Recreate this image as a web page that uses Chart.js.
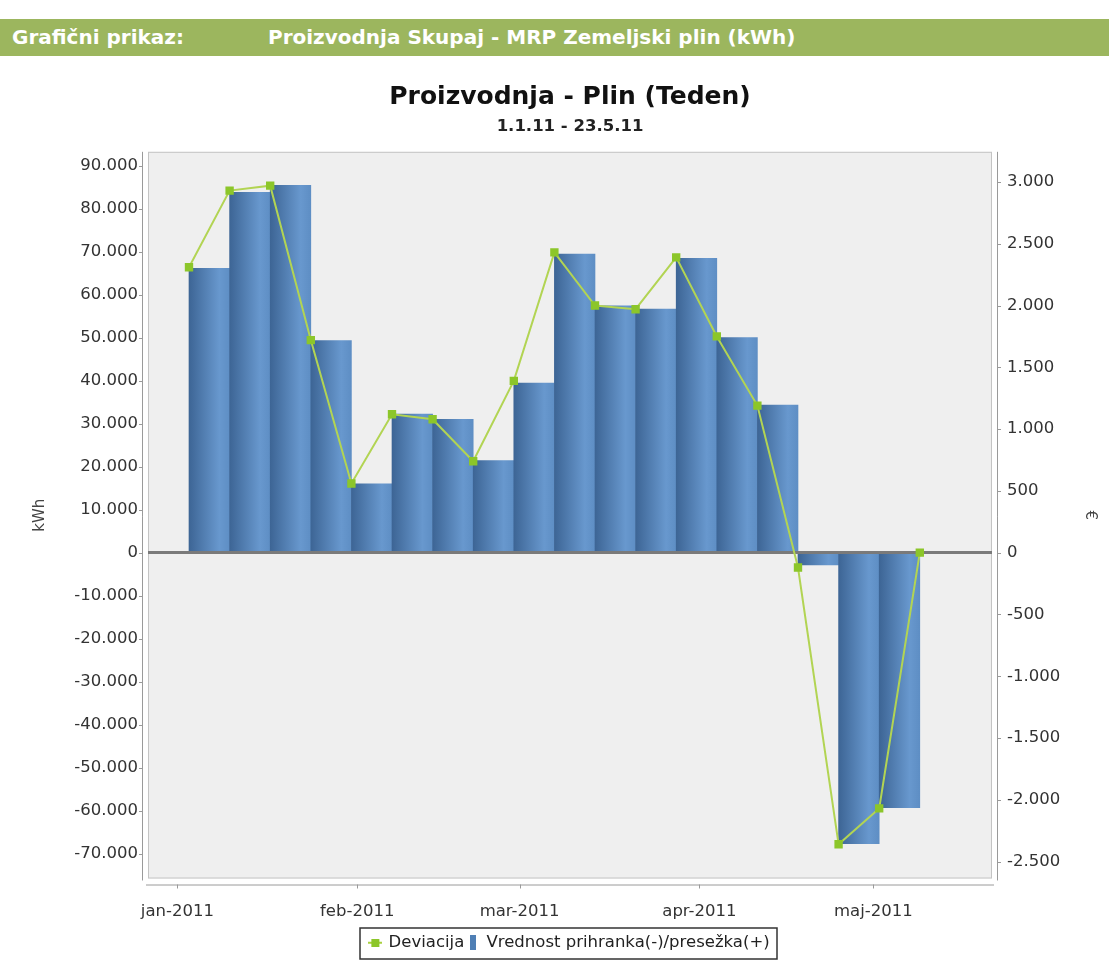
<!DOCTYPE html>
<html>
<head>
<meta charset="utf-8">
<script src="https://cdn.jsdelivr.net/npm/chart.js@4/dist/chart.umd.min.js"></script>
<style>
body { margin: 0; background: #fff; width: 1109px; height: 973px; overflow: hidden; font-family: "DejaVu Sans", sans-serif; }
#head { position: absolute; left: 0; top: 19px; width: 1109px; height: 37px; background: #9cb65e; color: #fff; font-weight: bold; font-size: 20px; line-height: 37px; }
#head span { position: absolute; top: 0; }
#wrap { position: absolute; left: 0; top: 60px; width: 1109px; height: 913px; }
</style>
</head>
<body>
<div id="head"><span style="left:12px">Grafični prikaz:</span><span style="left:268px">Proizvodnja Skupaj - MRP Zemeljski plin (kWh)</span></div>
<div id="wrap"><canvas id="chart"></canvas></div>
<script>
// week starts (Mondays)
var weekStarts = ['2011-01-03', '2011-01-10', '2011-01-17', '2011-01-24', '2011-01-31',
  '2011-02-07', '2011-02-14', '2011-02-21', '2011-02-28', '2011-03-07', '2011-03-14',
  '2011-03-21', '2011-03-28', '2011-04-04', '2011-04-11', '2011-04-18', '2011-04-25',
  '2011-05-02', '2011-05-09'];
// kWh per week
var vrednost = [66100, 83800, 85400, 49300, 16000, 32200, 31000, 21400, 39400, 69400,
  57400, 56600, 68400, 50000, 34300, -2900, -67700, -59300];
// EUR
var deviacija = [2310, 2930, 2970, 1720, 560, 1120, 1080, 740, 1390, 2430, 2000, 1970,
  2390, 1750, 1190, -120, -2360, -2070, 0];
var monthStarts = ['2011-01-01', '2011-02-01', '2011-03-01', '2011-04-01', '2011-05-01'];
var monthLabels = ['jan-2011', 'feb-2011', 'mar-2011', 'apr-2011', 'maj-2011'];
var kwhTicks = [-70000, -60000, -50000, -40000, -30000, -20000, -10000, 0,
  10000, 20000, 30000, 40000, 50000, 60000, 70000, 80000, 90000];
var eurTicks = [-2500, -2000, -1500, -1000, -500, 0, 500, 1000, 1500, 2000, 2500, 3000];

var dayOf = function (s) { return (Date.parse(s) - Date.parse('2011-01-01')) / 864e5; };
var fmt = function (v) {
  var s = String(Math.abs(Math.round(v))).replace(/\B(?=(\d{3})+(?!\d))/g, '.');
  return v < 0 ? '-' + s : s;
};

var barPoints = vrednost.map(function (v, i) { return { x: dayOf(weekStarts[i]) + 3.5, y: v }; });
var linePoints = deviacija.map(function (v, i) { return { x: dayOf(weekStarts[i]), y: v }; });

function barFill(c) {
  var chart = c.chart, xs = chart.scales.x;
  if (!chart.chartArea || !xs || c.type !== 'data' || !c.parsed) return '#5583b8';
  var cx = xs.getPixelForValue(c.parsed.x);
  var hw = xs.getPixelForValue(3.5) - xs.getPixelForValue(0);
  var g = chart.ctx.createLinearGradient(cx - hw, 0, cx + hw, 0);
  g.addColorStop(0, '#3d6595');
  g.addColorStop(0.75, '#6898ce');
  g.addColorStop(1, '#5e8ec4');
  return g;
}

function marker(w, h, draw) {
  var c = document.createElement('canvas');
  c.width = w; c.height = h;
  draw(c.getContext('2d'));
  return c;
}
var lineMark = marker(14, 8, function (g) {
  g.fillStyle = '#a9d13f'; g.fillRect(0, 3, 14, 2);
  g.fillStyle = '#8cc62a'; g.fillRect(3, 0, 8, 8);
});
var barMark = marker(6, 15, function (g) {
  g.fillStyle = '#4f7fb5'; g.fillRect(0, 0, 6, 15);
});

var frame = {
  id: 'frame',
  beforeDraw: function (chart) {
    var a = chart.chartArea, g = chart.ctx;
    g.save();
    g.fillStyle = '#efefef';
    g.fillRect(a.left, a.top, a.right - a.left, a.bottom - a.top);
    g.strokeStyle = '#c4c4c4';
    g.lineWidth = 1;
    g.strokeRect(a.left + 0.5, a.top + 0.5, a.right - a.left - 1, a.bottom - a.top - 1);

    g.strokeStyle = '#9a9a9a';
    g.beginPath();
    g.moveTo(a.left - 5.5, a.top); g.lineTo(a.left - 5.5, a.bottom + 2);
    g.moveTo(a.right + 5.5, a.top); g.lineTo(a.right + 5.5, a.bottom + 2);
    g.moveTo(a.left - 2, a.bottom + 6.5); g.lineTo(a.right + 2, a.bottom + 6.5);
    chart.scales.y.ticks.forEach(function (t) {
      var y = Math.round(chart.scales.y.getPixelForValue(t.value)) + 0.5;
      g.moveTo(a.left - 9, y); g.lineTo(a.left - 5, y);
    });
    chart.scales.y1.ticks.forEach(function (t) {
      var y = Math.round(chart.scales.y1.getPixelForValue(t.value)) + 0.5;
      g.moveTo(a.right + 5, y); g.lineTo(a.right + 9, y);
    });
    chart.scales.x.ticks.forEach(function (t) {
      var x = Math.round(chart.scales.x.getPixelForValue(t.value)) + 0.5;
      g.moveTo(x, a.bottom + 6); g.lineTo(x, a.bottom + 10);
    });
    g.stroke();
    g.restore();
  },
  afterDatasetDraw: function (chart, args) {
    if (args.index !== 1) return;
    var a = chart.chartArea, g = chart.ctx;
    var y0 = chart.scales.y.getPixelForValue(0);
    g.save();
    g.strokeStyle = '#7a7a7a';
    g.lineWidth = 3;
    g.beginPath();
    g.moveTo(a.left, y0); g.lineTo(a.right, y0);
    g.stroke();
    g.restore();
  },
  afterDraw: function (chart) {
    var hb = chart.legend.legendHitBoxes, g = chart.ctx;
    if (!hb || !hb.length) return;
    var x0 = Infinity, x1 = -Infinity, y0 = Infinity, y1 = -Infinity;
    hb.forEach(function (h) {
      x0 = Math.min(x0, h.left); x1 = Math.max(x1, h.left + h.width);
      y0 = Math.min(y0, h.top); y1 = Math.max(y1, h.top + h.height);
    });
    g.save();
    g.strokeStyle = '#333';
    g.lineWidth = 1.5;
    g.strokeRect(Math.round(x0 - 10), Math.round(y0 - 7), Math.round(x1 - x0 + 18), Math.round(y1 - y0 + 14));
    g.restore();
  }
};

Chart.defaults.font.family = '"DejaVu Sans", sans-serif';

var ctx = document.getElementById('chart');
var chart = new Chart(ctx, {
  type: 'bar',
  data: {
    datasets: [{
      type: 'line',
      label: 'Deviacija',
      data: linePoints,
      yAxisID: 'y1',
      borderColor: '#b2d453',
      borderWidth: 2,
      pointStyle: 'rect',
      pointRadius: 4.5,
      pointBackgroundColor: '#8cc62a',
      pointBorderColor: '#8cc62a',
      tension: 0,
      order: 0
    }, {
      type: 'bar',
      label: 'Vrednost prihranka(-)/presežka(+)',
      data: barPoints,
      yAxisID: 'y',
      backgroundColor: barFill,
      borderWidth: 0,
      barPercentage: 1,
      categoryPercentage: 1,
      order: 1
    }]
  },
  options: {
    responsive: true,
    maintainAspectRatio: false,
    animation: false,
    events: [],
    layout: { padding: { top: 0, bottom: 12, left: 0, right: 0 } },
    plugins: {
      tooltip: { enabled: false },
      title: {
        display: true, text: 'Proizvodnja - Plin (Teden)', color: '#111', fullSize: false,
        font: { size: 25, weight: 'bold' }, padding: { top: 22, bottom: 3 }
      },
      subtitle: {
        display: true, text: '1.1.11 - 23.5.11', color: '#222', fullSize: false,
        font: { size: 16.5, weight: 'bold' }, padding: { top: 2, bottom: 15 }
      },
      legend: {
        position: 'bottom',
        fullSize: false,
        labels: {
          usePointStyle: true,
          boxWidth: 10,
          padding: 4,
          color: '#222',
          font: { size: 16.5 },
          generateLabels: function (ch) {
            var items = Chart.defaults.plugins.legend.labels.generateLabels(ch);
            items.forEach(function (it) {
              it.pointStyle = it.datasetIndex === 0 ? lineMark : barMark;
            });
            return items;
          }
        }
      }
    },
    scales: {
      x: {
        type: 'linear', min: -5.07, max: 140.45, offset: false,
        grid: { display: false }, border: { display: false },
        afterBuildTicks: function (s) {
          s.ticks = monthStarts.map(function (d) { return { value: dayOf(d) }; });
        },
        afterFit: function (s) { s.height = 52; },
        ticks: {
          autoSkip: false, maxRotation: 0, padding: 15, color: '#333', font: { size: 16.5 },
          callback: function (v, i) { return monthLabels[i]; }
        }
      },
      y: {
        position: 'left', min: -75800, max: 93200,
        grid: { display: false }, border: { display: false },
        afterBuildTicks: function (s) {
          s.ticks = kwhTicks.map(function (v) { return { value: v }; });
        },
        ticks: { autoSkip: false, padding: 2, color: '#333', font: { size: 16.5 }, callback: fmt },
        title: { display: true, text: 'kWh', color: '#444', font: { size: 15 }, padding: { top: 31 } },
        afterFit: function (s) { s.width = 148; }
      },
      y1: {
        position: 'right', min: -2637, max: 3244,
        grid: { display: false }, border: { display: false },
        afterBuildTicks: function (s) {
          s.ticks = eurTicks.map(function (v) { return { value: v }; });
        },
        ticks: { autoSkip: false, padding: 7, color: '#333', font: { size: 16.5 }, callback: fmt },
        title: { display: true, text: '€', color: '#444', font: { size: 15 }, padding: { top: 10 } },
        afterFit: function (s) { s.width = 117; }
      }
    }
  },
  plugins: [frame]
});
</script>
</body>
</html>
